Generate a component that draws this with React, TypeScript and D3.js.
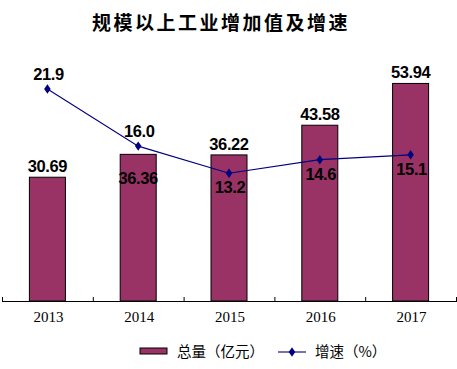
import React, { useEffect, useRef } from "react";
import * as d3 from "d3";

const years = ["2013", "2014", "2015", "2016", "2017"];
const totals = [30.69, 36.36, 36.22, 43.58, 53.94];
const growth = [21.9, 16.0, 13.2, 14.6, 15.1];
const growthLabels = ["21.9", "16.0", "13.2", "14.6", "15.1"];
// where the growth label sits relative to its point: above (-1) or below (1)
const growthSide = [-1, -1, 1, 1, 1];
// total label inside the bar for 2014 (overlaps with line label otherwise)
const totalInside = [false, true, false, false, false];

const W = 457, H = 369;

export default function App() {
  const ref = useRef<SVGSVGElement>(null);

  useEffect(() => {
    const svg = d3.select(ref.current);
    svg.selectAll("*").remove();

    const left = 2, right = 456, base = 301, top = 59;

    const x = d3.scaleBand().domain(years).range([left, right]).paddingInner(0).paddingOuter(0);
    const yL = d3.scaleLinear().domain([0, 60]).range([base, top]);
    const yR = d3.scaleLinear().domain([0, 25]).range([base, top]);
    const barW = 36;

    // title
    svg.append("text")
      .attr("x", 221).attr("y", 30)
      .attr("text-anchor", "middle")
      .attr("font-family", "Noto Sans CJK SC")
      .attr("font-weight", "bold")
      .attr("font-size", 19)
      .attr("letter-spacing", 2.5)
      .text("规模以上工业增加值及增速");

    const g = svg.append("g");

    // bars
    g.selectAll(".bar")
      .data(totals)
      .join("rect")
      .attr("class", "bar")
      .attr("x", (d, i) => x(years[i])! + x.bandwidth() / 2 - barW / 2)
      .attr("y", d => yL(d))
      .attr("width", barW)
      .attr("height", d => base - yL(d))
      .attr("fill", "#993366")
      .attr("stroke", "#000")
      .attr("stroke-width", 1);

    // axis line + ticks at band edges
    g.append("line")
      .attr("x1", left).attr("x2", right)
      .attr("y1", base + 0.5).attr("y2", base + 0.5)
      .attr("stroke", "#000");
    const edges = years.map(y => x(y)!).concat([right]);
    g.selectAll(".tick")
      .data(edges)
      .join("line")
      .attr("class", "tick")
      .attr("x1", d => d + 0.5).attr("x2", d => d + 0.5)
      .attr("y1", base - 4).attr("y2", base + 1)
      .attr("stroke", "#000");

    // x labels
    g.selectAll(".xl")
      .data(years)
      .join("text")
      .attr("class", "xl")
      .attr("x", d => x(d)! + x.bandwidth() / 2 + 1)
      .attr("y", 322)
      .attr("text-anchor", "middle")
      .attr("font-family", "Liberation Serif")
      .attr("font-size", 15)
      .text(d => d);

    // line
    const line = d3.line<number>()
      .x((d, i) => x(years[i])! + x.bandwidth() / 2)
      .y(d => yR(d));
    g.append("path")
      .datum(growth)
      .attr("d", line)
      .attr("fill", "none")
      .attr("stroke", "#000080")
      .attr("stroke-width", 1.1);

    g.selectAll(".pt")
      .data(growth)
      .join("path")
      .attr("class", "pt")
      .attr("d", d3.symbol(d3.symbolDiamond, 26))
      .attr("transform", (d, i) => `translate(${x(years[i])! + x.bandwidth() / 2},${yR(d)}) scale(1.2,1)`)
      .attr("fill", "#000080");

    // total labels
    g.selectAll(".tl")
      .data(totals)
      .join("text")
      .attr("class", "tl")
      .attr("x", (d, i) => x(years[i])! + x.bandwidth() / 2)
      .attr("y", (d, i) => totalInside[i] ? yL(d) + 30 : yL(d) - 5)
      .attr("text-anchor", "middle")
      .attr("font-family", "Liberation Sans")
      .attr("font-weight", "bold")
      .attr("font-size", 16.5)
      .attr("letter-spacing", -0.4)
      .text(d => d.toFixed(2));

    // growth labels
    g.selectAll(".gl")
      .data(growth)
      .join("text")
      .attr("class", "gl")
      .attr("x", (d, i) => x(years[i])! + x.bandwidth() / 2 + 1)
      .attr("y", (d, i) => growthSide[i] < 0 ? yR(d) - 9 : yR(d) + 20)
      .attr("text-anchor", "middle")
      .attr("font-family", "Liberation Sans")
      .attr("font-weight", "bold")
      .attr("font-size", 16.5)
      .attr("letter-spacing", -0.4)
      .text((d, i) => growthLabels[i]);

    // legend
    const lg = svg.append("g");
    lg.append("rect")
      .attr("x", 140).attr("y", 348).attr("width", 27).attr("height", 6)
      .attr("fill", "#993366").attr("stroke", "#000");
    lg.append("text")
      .attr("x", 177).attr("y", 357)
      .attr("font-family", "Noto Sans CJK SC")
      .attr("font-size", 14.5)
      .text("总量（亿元）");
    lg.append("line")
      .attr("x1", 278).attr("x2", 306).attr("y1", 352).attr("y2", 352)
      .attr("stroke", "#000080").attr("stroke-width", 1.1);
    lg.append("path")
      .attr("d", d3.symbol(d3.symbolDiamond, 26))
      .attr("transform", "translate(292,352) scale(1.2,1)")
      .attr("fill", "#000080");
    lg.append("text")
      .attr("x", 315).attr("y", 357)
      .attr("font-family", "Noto Sans CJK SC")
      .attr("font-size", 14.5)
      .text("增速（%）");
  }, []);

  return <svg ref={ref} width={W} height={H} style={{ position: "absolute", left: 0, top: 0, background: "#fff" }} />;
}
